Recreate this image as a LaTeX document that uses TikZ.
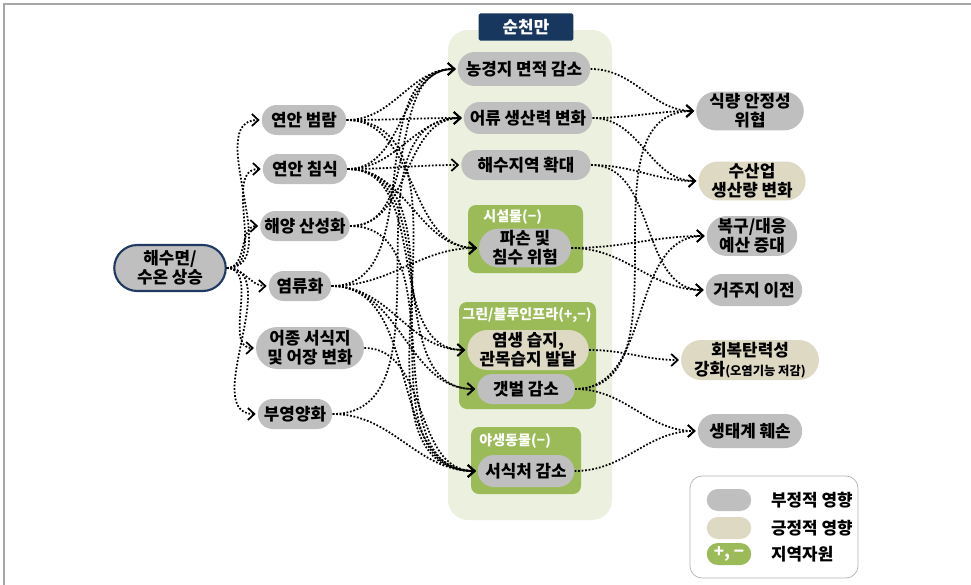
\documentclass[tikz,border=0pt]{standalone}
\usepackage{fontspec}
\setmainfont{Noto Sans CJK KR}
\usetikzlibrary{arrows.meta,shapes.misc}
\definecolor{neggray}{HTML}{BFBFBF}
\definecolor{posbeige}{HTML}{DDD9C3}
\definecolor{resgreen}{HTML}{9BBB59}
\definecolor{bayback}{HTML}{EBF1DE}
\definecolor{baynavy}{HTML}{17375E}
\definecolor{srcblue}{HTML}{1F3864}
\begin{document}
\begin{tikzpicture}[x=0.02cm,y=-0.02cm,
  font=\fontsize{9.6}{11}\selectfont\bfseries,
  negnode/.style={rounded rectangle,fill=neggray,align=center,inner sep=1pt,minimum height=0.6cm},
  posnode/.style={negnode,fill=posbeige},
  reslabel/.style={text=white,anchor=west,inner sep=0pt,font=\fontsize{8}{9}\selectfont\bfseries},
  link/.style={densely dotted,line width=1pt,-{Straight Barb[length=1.3mm,width=2.4mm]},shorten >=1pt}]
    \useasboundingbox (0,0) rectangle (971,585);
    \draw[gray!70,line width=0.8pt] (4,585) -- (4,4) -- (971,4);

    % 순천만
    \fill[bayback,rounded corners=0.4cm] (448,30) rectangle (612,520);
    \node[fill=baynavy,text=white,minimum width=1.9cm,minimum height=0.52cm,rounded corners=1pt] (bay) at (526,27) {순천만};
    \fill[resgreen,rounded corners=0.16cm] (468,205) rectangle (583,273);
    \fill[resgreen,rounded corners=0.16cm] (459,302) rectangle (596,409);
    \fill[resgreen,rounded corners=0.16cm] (471,427) rectangle (581,494);
    \node[reslabel] (g1) at (483,217) {시설물(−)};
    \node[reslabel] (g2) at (462,315) {그린/블루인프라(+,−)};
    \node[reslabel] (g3) at (479,441) {야생동물(−)};

    % 원인
    \node[negnode,draw=srcblue,line width=1.2pt,minimum width=2.3cm,minimum height=0.92cm] (src) at (170,268) {해수면/\\수온 상승};
    \node[negnode,minimum width=1.76cm] (l1) at (304,120) {연안 범람};
    \node[negnode,minimum width=1.76cm] (l2) at (305,169) {연안 침식};
    \node[negnode,minimum width=1.76cm] (l3) at (305,226) {해양 산성화};
    \node[negnode,minimum width=1.32cm] (l4) at (300,286) {염류화};
    \node[negnode,minimum width=2.08cm,minimum height=0.84cm] (l5) at (310,348) {어종 서식지\\및 어장 변화};
    \node[negnode,minimum width=1.56cm] (l6) at (295,414) {부영양화};

    % 지역 영향
    \node[negnode,minimum width=2.72cm,minimum height=0.68cm] (m1) at (524,69) {농경지 면적 감소};
    \node[negnode,minimum width=2.64cm,minimum height=0.64cm] (m2) at (528,118) {어류 생산력 변화};
    \node[negnode,minimum width=2.66cm] (m3) at (526,165) {해수지역 확대};
    \node[negnode,minimum width=1.8cm,minimum height=0.76cm] (m4) at (525,248) {파손 및\\침수 위험};
    \node[posnode,minimum width=2.2cm,minimum height=0.8cm] (m5) at (528,350) {염생 습지,\\관목습지 발달};
    \node[negnode,minimum width=2.02cm] (m6) at (526,389) {갯벌 감소};
    \node[negnode,minimum width=2cm,minimum height=0.64cm] (m7) at (526,471) {서식처 감소};

    % 결과
    \node[negnode,minimum width=1.88cm,minimum height=0.76cm] (r1) at (750,111) {식량 안정성\\위협};
    \node[posnode,minimum width=1.92cm,minimum height=0.78cm] (r2) at (752,181) {수산업\\생산량 변화};
    \node[negnode,minimum width=1.88cm,minimum height=0.8cm] (r3) at (752,236) {복구/대응\\예산 증대};
    \node[negnode,minimum width=2cm,minimum height=0.64cm] (r4) at (754,290) {거주지 이전};
    \node[posnode,minimum width=2.48cm,minimum height=0.8cm] (r5) at (750,360) {회복탄력성\\강화{\fontsize{7}{8}\selectfont(오염기능 저감)}};
    \node[negnode,minimum width=2.16cm,minimum height=0.68cm] (r6) at (750,431) {생태계 훼손};

    % 연결
    \foreach \t in {l1,l2,l3,l4,l5,l6}
        \draw[link] (src.east) to[out=0,in=180] (\t.west);
    \foreach \s/\t in {l1/m1,l1/m2,l1/m4,l1/m7,
                       l2/m1,l2/m2,l2/m3,l2/m4,l2/m5,l2/m6,l2/m7,
                       l3/m1,l3/m2,l3/m7,
                       l4/m1,l4/m4,l4/m5,l4/m6,l4/m7,
                       l5/m7,l6/m2,l6/m7}
        \draw[link] (\s.east) to[out=0,in=180] (\t.west);
    \foreach \s/\t in {m1/r1,m2/r1,m2/r2,m3/r2,m3/r4,m4/r3,m4/r4,
                       m5/r5,m6/r1,m6/r3,m6/r6,m7/r6}
        \draw[link] (\s.east) to[out=0,in=180] (\t.west);

    % 범례
    \draw[gray!60,rounded corners=0.24cm] (690,476) rectangle (858,578);
    \node[negnode,minimum width=0.96cm,minimum height=0.44cm] (kneg) at (729,500) {};
    \node[posnode,minimum width=0.96cm,minimum height=0.44cm] (kpos) at (729,528) {};
    \node[negnode,fill=resgreen,text=white,minimum width=0.96cm,minimum height=0.44cm] (kres) at (729,554) {+, −};
    \node[anchor=west] at (765,500) {부정적 영향};
    \node[anchor=west] at (765,528) {긍정적 영향};
    \node[anchor=west] at (765,554) {지역자원};
\end{tikzpicture}
\end{document}
